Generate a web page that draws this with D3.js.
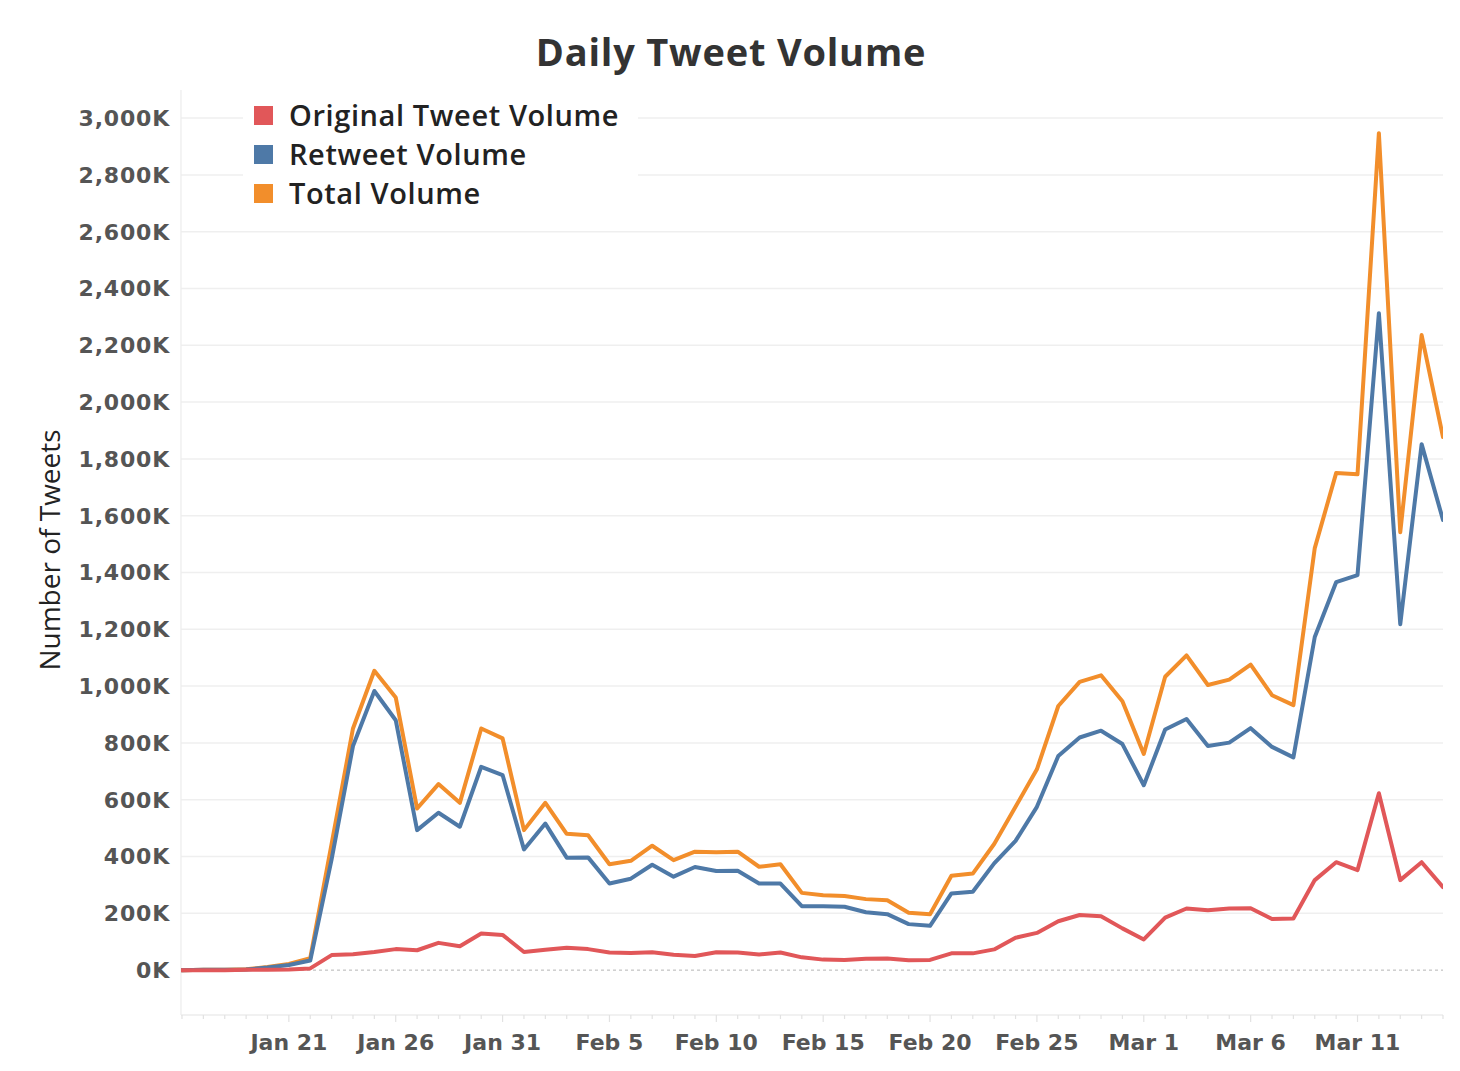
<!DOCTYPE html>
<html>
<head>
<meta charset="utf-8">
<script src="https://cdn.jsdelivr.net/npm/d3@7"></script>
<style>
  html, body { margin: 0; padding: 0; background: #fff; }
  svg { display: block; }
</style>
</head>
<body>
<svg id="chart" width="1460" height="1071"></svg>
<script>
// ---- Data (values in thousands of tweets) ----
const dates = [
  "2020-01-16","2020-01-17","2020-01-18","2020-01-19","2020-01-20","2020-01-21","2020-01-22","2020-01-23","2020-01-24","2020-01-25",
  "2020-01-26","2020-01-27","2020-01-28","2020-01-29","2020-01-30","2020-01-31","2020-02-01","2020-02-02","2020-02-03","2020-02-04",
  "2020-02-05","2020-02-06","2020-02-07","2020-02-08","2020-02-09","2020-02-10","2020-02-11","2020-02-12","2020-02-13","2020-02-14",
  "2020-02-15","2020-02-16","2020-02-17","2020-02-18","2020-02-19","2020-02-20","2020-02-21","2020-02-22","2020-02-23","2020-02-24",
  "2020-02-25","2020-02-26","2020-02-27","2020-02-28","2020-02-29","2020-03-01","2020-03-02","2020-03-03","2020-03-04","2020-03-05",
  "2020-03-06","2020-03-07","2020-03-08","2020-03-09","2020-03-10","2020-03-11","2020-03-12","2020-03-13","2020-03-14","2020-03-15"
];
const originalVolume = [
  0, 0, 0, 1, 1, 2, 6, 53, 56, 64,
  74, 70, 96, 84, 129, 124, 64, 72, 79, 74,
  62, 60, 63, 54, 50, 63, 62, 55, 62, 45,
  37, 36, 40, 41, 35, 36, 59, 59, 73, 114,
  131, 172, 194, 190, 147, 108, 185, 217, 211, 217,
  218, 180, 182, 317, 380, 352, 623, 317, 380, 292
];
const retweetVolume = [
  0, 1, 1, 2, 9, 18, 34, 390, 789, 983,
  880, 493, 554, 505, 716, 687, 425, 516, 396, 397,
  305, 322, 371, 329, 363, 349, 350, 305, 305, 225,
  225, 223, 204, 197, 162, 156, 270, 276, 376, 455,
  575, 754, 819, 843, 796, 651, 847, 884, 789, 801,
  852, 786, 749, 1173, 1366, 1391, 2313, 1218, 1852, 1585
];
const totalVolume = [
  0, 1, 1, 3, 11, 22, 42, 445, 851, 1054,
  960, 569, 655, 589, 851, 816, 493, 589, 480, 475,
  373, 385, 438, 387, 417, 415, 417, 364, 373, 272,
  264, 261, 250, 246, 202, 197, 332, 340, 444, 575,
  707, 930, 1015, 1038, 947, 761, 1033, 1108, 1004, 1023,
  1076, 968, 933, 1486, 1750, 1746, 2947, 1542, 2236, 1877
];
const seriesNames = ["Original Tweet Volume", "Retweet Volume", "Total Volume"];
const seriesColors = ["#e15759", "#4e79a7", "#f28e2b"];
const yTicks = [0, 200, 400, 600, 800, 1000, 1200, 1400, 1600, 1800, 2000, 2200, 2400, 2600, 2800, 3000];
const xTickDates = ["2020-01-21","2020-01-26","2020-01-31","2020-02-05","2020-02-10","2020-02-15","2020-02-20","2020-02-25","2020-03-01","2020-03-06","2020-03-11"];
const xTickLabels = ["Jan 21","Jan 26","Jan 31","Feb 5","Feb 10","Feb 15","Feb 20","Feb 25","Mar 1","Mar 6","Mar 11"];

// ---- Layout ----
const W = 1460, H = 1071;
const plot = { left: 181, right: 1443, top: 90, bottom: 1015 };
const parse = d3.utcParse("%Y-%m-%d");
const dateObjs = dates.map(parse);

const svg = d3.select("#chart");
svg.append("rect").attr("width", W).attr("height", H).attr("fill", "#fff");

const x = d3.scaleUtc()
  .domain([dateObjs[0], dateObjs[dateObjs.length - 1]])
  .range([plot.left + 1, plot.right]);
const y = d3.scaleLinear()
  .domain([-158, 3099])
  .range([plot.bottom, plot.top]);

const tickFont = "'DejaVu Sans', sans-serif";
const mainFont = "'Open Sans', 'Noto Sans', sans-serif";

// Gridlines
const grid = svg.append("g");
grid.selectAll("line.grid").data(yTicks.filter(d => d !== 0)).join("line")
  .attr("x1", plot.left).attr("x2", plot.right)
  .attr("y1", d => y(d)).attr("y2", d => y(d))
  .attr("stroke", "#efefef").attr("stroke-width", 1.5);

// Axis lines
svg.append("line")
  .attr("x1", plot.left).attr("x2", plot.left)
  .attr("y1", plot.top).attr("y2", plot.bottom)
  .attr("stroke", "#ececec").attr("stroke-width", 1.2);
svg.append("line")
  .attr("x1", plot.left).attr("x2", plot.right)
  .attr("y1", plot.bottom).attr("y2", plot.bottom)
  .attr("stroke", "#ececec").attr("stroke-width", 1.5);

// Zero line (dashed)
svg.append("line")
  .attr("x1", plot.left).attr("x2", plot.right)
  .attr("y1", y(0)).attr("y2", y(0))
  .attr("stroke", "#b5b5b5").attr("stroke-width", 1)
  .attr("stroke-dasharray", "3,3");

// X ticks (daily minor, 5-day major)
const majorSet = new Set(xTickDates);
const xAxis = svg.append("g");
xAxis.selectAll("line.tick").data(dateObjs).join("line")
  .attr("x1", d => x(d)).attr("x2", d => x(d))
  .attr("y1", plot.bottom)
  .attr("y2", (d, i) => plot.bottom + (majorSet.has(dates[i]) ? 7 : 4))
  .attr("stroke", "#e2e2e2").attr("stroke-width", 1.2);

xAxis.selectAll("text").data(xTickDates).join("text")
  .attr("x", d => x(parse(d)))
  .attr("y", 1042)
  .attr("dy", "0.35em")
  .attr("text-anchor", "middle")
  .attr("font-family", tickFont)
  .attr("font-weight", "bold")
  .attr("font-size", 22)
  .attr("fill", "#555")
  .text((d, i) => xTickLabels[i]);

// Y tick labels
const fmt = d3.format(",");
svg.append("g").selectAll("text").data(yTicks).join("text")
  .attr("x", 170)
  .attr("y", d => y(d))
  .attr("dy", "0.36em")
  .attr("text-anchor", "end")
  .attr("font-family", tickFont)
  .attr("font-weight", "bold")
  .attr("font-size", 22)
  .attr("letter-spacing", 0.8)
  .attr("fill", "#555")
  .text(d => fmt(d) + "K");

// Clip
svg.append("clipPath").attr("id", "clip")
  .append("rect")
  .attr("x", plot.left).attr("y", plot.top)
  .attr("width", plot.right - plot.left).attr("height", plot.bottom - plot.top);

// Lines: total first (bottom), then retweet, then original (top)
const seriesValues = [originalVolume, retweetVolume, totalVolume];
const drawOrder = [2, 1, 0];
const line = d3.line()
  .x(d => x(d.date))
  .y(d => y(d.value));

const linesG = svg.append("g").attr("clip-path", "url(#clip)");
drawOrder.forEach(si => {
  const pts = dateObjs.map((dt, i) => ({ date: dt, value: seriesValues[si][i] }));
  linesG.append("path")
    .datum(pts)
    .attr("d", line)
    .attr("fill", "none")
    .attr("stroke", seriesColors[si])
    .attr("stroke-width", 4)
    .attr("stroke-linejoin", "round")
    .attr("stroke-linecap", "round");
});

// Legend
const legend = svg.append("g");
legend.append("rect")
  .attr("x", 243).attr("y", 96).attr("width", 395).attr("height", 116)
  .attr("fill", "#fff");
const legendRowY = [116, 155, 194];
seriesNames.forEach((name, i) => {
  legend.append("rect")
    .attr("x", 254).attr("y", legendRowY[i] - 10)
    .attr("width", 19).attr("height", 19)
    .attr("fill", seriesColors[i]);
  legend.append("text")
    .attr("x", 289).attr("y", legendRowY[i])
    .attr("dy", "0.36em")
    .attr("font-family", mainFont)
    .attr("font-weight", 600)
    .attr("font-size", 29)
    .attr("letter-spacing", 0.6)
    .attr("fill", "#222")
    .text(name);
});

// Title
svg.append("text")
  .attr("x", 731).attr("y", 53)
  .attr("dy", "0.35em")
  .attr("text-anchor", "middle")
  .attr("font-family", mainFont)
  .attr("font-weight", 700)
  .attr("font-size", 38)
  .attr("letter-spacing", 0.8)
  .attr("fill", "#333")
  .text("Daily Tweet Volume");

// Y axis title
svg.append("text")
  .attr("transform", "translate(50,550) rotate(-90)")
  .attr("dy", "0.35em")
  .attr("text-anchor", "middle")
  .attr("font-family", mainFont)
  .attr("font-weight", 500)
  .attr("font-size", 28)
  .attr("fill", "#222")
  .text("Number of Tweets");
</script>
</body>
</html>
